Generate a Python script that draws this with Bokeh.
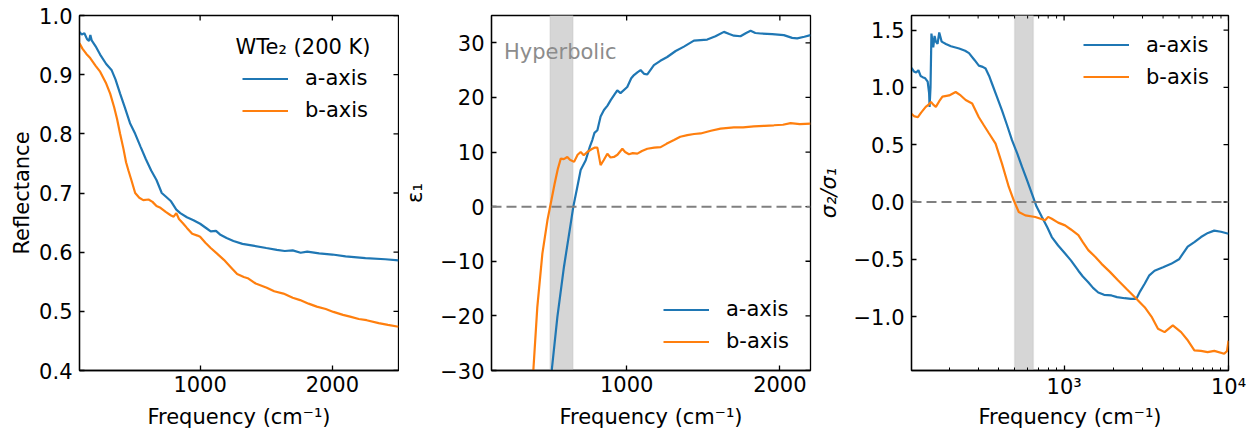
import math
from bokeh.plotting import figure
from bokeh.layouts import row
from bokeh.models import (FixedTicker, Span, BoxAnnotation, BasicTickFormatter,
                          Legend, LegendItem, Label, Range1d)
from bokeh.embed import file_html
from bokeh.resources import INLINE

BLUE = "#1f77b4"
ORANGE = "#ff7f0e"
FONT = "DejaVu Sans"
FS = "21px"
FRAME_W = 319
FRAME_H = 355

# ---------------- data ----------------
# Panel 1: reflectance
refl_freq_a = [88, 105, 125, 145, 160, 170, 180, 210, 244, 290, 330, 360, 395, 430, 470, 509, 550, 590,
               630, 670, 710, 740, 780, 820, 850, 900, 950, 1000, 1050, 1080, 1120, 1150, 1200, 1252,
               1320, 1400, 1500, 1580, 1640, 1700, 1760, 1810, 1900, 2000, 2100, 2250, 2400, 2500]
refl_a = [0.972, 0.968, 0.970, 0.960, 0.957, 0.967, 0.958, 0.948, 0.934, 0.918, 0.908, 0.892, 0.868,
          0.845, 0.818, 0.800, 0.778, 0.757, 0.738, 0.722, 0.700, 0.694, 0.686, 0.672, 0.666, 0.659,
          0.654, 0.648, 0.640, 0.635, 0.636, 0.630, 0.624, 0.619, 0.614, 0.611, 0.607, 0.604, 0.602,
          0.603, 0.599, 0.601, 0.598, 0.596, 0.593, 0.590, 0.588, 0.586]
refl_freq_b = [88, 110, 140, 169, 210, 244, 290, 320, 350, 372, 395, 420, 440, 458, 480, 509, 540, 570,
               610, 640, 670, 700, 740, 780, 800, 820, 840, 870, 900, 940, 980, 1000, 1040, 1080, 1126,
               1180, 1230, 1280, 1330, 1360, 1420, 1504, 1560, 1630, 1700, 1756, 1820, 1882, 1950, 2008,
               2080, 2134, 2200, 2259, 2350, 2420, 2500]
refl_b = [0.953, 0.944, 0.935, 0.928, 0.915, 0.905, 0.885, 0.868, 0.845, 0.825, 0.800, 0.775, 0.752,
          0.738, 0.722, 0.700, 0.692, 0.688, 0.689, 0.685, 0.678, 0.675, 0.668, 0.662, 0.660, 0.666,
          0.656, 0.649, 0.641, 0.631, 0.628, 0.626, 0.616, 0.607, 0.598, 0.587, 0.575, 0.563, 0.558,
          0.556, 0.547, 0.540, 0.534, 0.530, 0.523, 0.519, 0.513, 0.508, 0.504, 0.499, 0.494, 0.491,
          0.487, 0.485, 0.480, 0.477, 0.474]

# Panel 2: epsilon_1
eps_freq_a = [505, 511, 548, 591, 635, 652, 678, 700, 733, 760, 776, 790, 809, 830, 852, 875, 896, 920,
              939, 960, 1004, 1030, 1048, 1070, 1091, 1115, 1135, 1178, 1220, 1265, 1320, 1374, 1439,
              1526, 1580, 1635, 1670, 1700, 1743, 1780, 1809, 1840, 1874, 1950, 2026, 2080, 2113, 2160, 2200]
eps_a = [-33, -30, -20.2, -11, -3.1, 0, 3.6, 6.7, 8.5, 11, 12.2, 13.5, 14, 16.5, 17.7, 18.5, 19.5, 20.5,
         21.3, 20.8, 21.9, 23.5, 24.1, 24.6, 25.0, 24.3, 24.2, 25.9, 26.7, 27.4, 28.5, 29.3, 30.4,
         30.6, 31.2, 32.0, 31.6, 31.3, 31.2, 31.8, 32.2, 31.8, 31.7, 31.6, 31.4, 30.9, 30.8, 31.1, 31.4]
eps_freq_b = [385, 391, 417, 450, 483, 504, 530, 550, 570, 590, 613, 630, 657, 680, 700, 720, 743, 770,
              790, 809, 830, 850, 874, 895, 917, 940, 972, 990, 1015, 1040, 1070, 1100, 1135, 1180, 1222,
              1260, 1309, 1350, 1396, 1440, 1483, 1550, 1613, 1700, 1760, 1830, 1900, 1961, 2020, 2070,
              2130, 2200]
eps_b = [-33, -30, -18.4, -8.6, -2.5, 0.5, 4.2, 6.8, 8.8, 8.7, 9.1, 8.6, 8.2, 9.5, 10, 9.4, 10, 10.5,
         10.8, 10.8, 7.6, 8.5, 9.7, 9.0, 9.1, 9.5, 10.6, 10.0, 9.6, 9.8, 9.7, 10.2, 10.6, 10.8, 10.9,
         11.5, 12.2, 12.8, 13.1, 13.3, 13.4, 13.9, 14.3, 14.5, 14.5, 14.7, 14.8, 14.9, 15.0, 15.3,
         15.1, 15.2]

# Panel 3: sigma2/sigma1 (log frequency axis)
sig_freq_a = [118, 122, 126, 130, 134, 138, 143, 148, 151, 152, 154, 156, 160, 163, 166, 170, 174, 180,
              191, 205, 230, 250, 264, 285, 303, 320, 333, 350, 365, 390, 419, 450, 482, 520, 555, 595,
              637, 680, 733, 790, 842, 920, 1014, 1100, 1221, 1300, 1403, 1500, 1614, 1750, 1942, 2100,
              2338, 2550, 2752, 2900, 3091, 3300, 3550, 4000, 4477, 5000, 5648, 6200, 6805, 7500, 8187,
              9000, 10000]
sig_a = [1.17, 1.14, 1.13, 1.15, 1.10, 1.09, 1.08, 1.05, 0.95, 0.83, 1.0, 1.47, 1.35, 1.45, 1.40, 1.38,
         1.48, 1.40, 1.38, 1.36, 1.34, 1.32, 1.30, 1.24, 1.19, 1.18, 1.165, 1.10, 1.03, 0.92, 0.80, 0.67,
         0.54, 0.42, 0.306, 0.19, 0.073, -0.04, -0.131, -0.22, -0.306, -0.38, -0.45, -0.51, -0.60,
         -0.65, -0.70, -0.75, -0.79, -0.81, -0.816, -0.83, -0.84, -0.845, -0.845, -0.78, -0.714,
         -0.64, -0.60, -0.57, -0.54, -0.50, -0.39, -0.35, -0.306, -0.27, -0.25, -0.26, -0.277]
sig_freq_b = [118, 122, 129, 135, 144, 150, 155, 160, 166, 174, 182, 200, 219, 235, 252, 276, 303, 325,
              349, 383, 419, 461, 494, 530, 581, 668, 767, 800, 842, 920, 1014, 1100, 1221, 1300, 1403,
              1550, 1690, 1900, 2133, 2400, 2685, 3091, 3400, 3724, 4085, 4584, 5148, 5600, 6200, 6800,
              7462, 8200, 9415, 9800, 10000]
sig_b = [0.77, 0.75, 0.74, 0.78, 0.83, 0.85, 0.874, 0.85, 0.83, 0.88, 0.92, 0.93, 0.96, 0.93, 0.89,
         0.86, 0.74, 0.67, 0.60, 0.51, 0.335, 0.131, 0.015, -0.087, -0.117, -0.131, -0.16, -0.13,
         -0.146, -0.18, -0.204, -0.24, -0.29, -0.35, -0.42, -0.48, -0.54, -0.61, -0.685, -0.76, -0.83,
         -0.918, -1.0, -1.107, -1.136, -1.078, -1.136, -1.2, -1.296, -1.30, -1.31, -1.30, -1.325,
         -1.30, -1.21]

hyperbolic_band = (500, 650)
zero_level = 0

refl_yticks = [0.4, 0.5, 0.6, 0.7, 0.8, 0.9, 1.0]
eps_yticks = [-30, -20, -10, 0, 10, 20, 30]
sig_yticks = [-1.0, -0.5, 0.0, 0.5, 1.0, 1.5]
lin_xticks = [1000, 2000]
log_xticks = [1000, 10000]
log_minor = [200, 300, 400, 500, 600, 700, 800, 900, 2000, 3000, 4000, 5000, 6000, 7000, 8000, 9000]

XLABEL = "Frequency (cm\u207b\u00b9)"


def fmt(v, nd):
    s = f"{v:.{nd}f}"
    return s.replace("-", "\u2212")


def style_axis(ax, ticks, minor=None, standoff=7, label_standoff=8):
    ax.ticker = FixedTicker(ticks=ticks, minor_ticks=minor or [])
    ax.formatter = BasicTickFormatter(use_scientific=False)
    ax.axis_line_color = "black"
    ax.axis_line_width = 1.3
    ax.major_tick_line_color = "black"
    ax.major_tick_line_width = 1.3
    ax.major_tick_in = 5
    ax.major_tick_out = 0
    ax.minor_tick_line_color = "black"
    ax.minor_tick_line_width = 1.0
    ax.minor_tick_in = 3 if minor else 0
    ax.minor_tick_out = 0
    ax.major_label_text_font = FONT
    ax.major_label_text_color = "black"
    ax.major_label_text_font_size = FS
    ax.major_label_standoff = standoff
    ax.axis_label_text_font = FONT
    ax.axis_label_text_font_size = FS
    ax.axis_label_text_font_style = "normal"
    ax.axis_label_text_color = "black"
    ax.axis_label_standoff = label_standoff


def make_fig(width, left, right, xr, yr, log=False):
    p = figure(width=width, height=434, x_range=Range1d(*xr), y_range=Range1d(*yr),
               x_axis_type="log" if log else "linear",
               output_backend="svg", toolbar_location=None,
               min_border_left=left, min_border_right=right, min_border_top=15, min_border_bottom=64)
    p.xgrid.visible = False
    p.ygrid.visible = False
    p.outline_line_color = "black"
    p.outline_line_width = 1.3
    p.background_fill_color = "white"
    p.border_fill_color = "white"
    return p


def mirror_ticks(p, xticks, yticks, xr, yr, log=False, minor=None):
    """Inward tick marks on the top and right frame edges (matplotlib 'direction=in' style)."""
    def ylen(px):
        return px * (yr[1] - yr[0]) / FRAME_H

    def xend(px):
        if log:
            return xr[1] / 10 ** (px * math.log10(xr[1] / xr[0]) / FRAME_W)
        return xr[1] - px * (xr[1] - xr[0]) / FRAME_W

    p.segment(x0=xticks, x1=xticks, y0=[yr[1]] * len(xticks), y1=[yr[1] - ylen(5)] * len(xticks),
              line_color="black", line_width=1.3)
    if minor:
        p.segment(x0=minor, x1=minor, y0=[yr[1]] * len(minor), y1=[yr[1] - ylen(3)] * len(minor),
                  line_color="black", line_width=1.0)
    p.segment(x0=[xr[1]] * len(yticks), x1=[xend(5)] * len(yticks), y0=yticks, y1=yticks,
              line_color="black", line_width=1.3)


def add_box_axes(p, xticks, yticks, xlabels, ylabels, ylabel, xr, yr, log=False, minor=None,
                 ylabel_standoff=8, xtick_standoff=5, xlabel_standoff=10):
    style_axis(p.xaxis[0], xticks, minor, standoff=xtick_standoff, label_standoff=xlabel_standoff)
    p.xaxis[0].axis_label = XLABEL
    p.xaxis[0].major_label_overrides = xlabels
    style_axis(p.yaxis[0], yticks, None, standoff=7, label_standoff=ylabel_standoff)
    p.yaxis[0].axis_label = ylabel
    p.yaxis[0].major_label_overrides = ylabels
    mirror_ticks(p, xticks, yticks, xr, yr, log, minor)


def make_legend(p, ra, rb, loc):
    leg = Legend(items=[LegendItem(label="a-axis", renderers=[ra]),
                        LegendItem(label="b-axis", renderers=[rb])],
                 location=loc, padding=0, margin=0, spacing=3,
                 glyph_width=46, glyph_height=29, label_height=29, label_standoff=17,
                 border_line_alpha=0, background_fill_alpha=0,
                 label_text_font=FONT, label_text_font_size=FS, label_text_color="black")
    p.add_layout(leg)


# ---------------- panel 1 ----------------
X1, Y1 = (88, 2500), (0.4, 1.0)
p1 = make_fig(399, 79, 1, X1, Y1)
add_box_axes(p1, lin_xticks, refl_yticks, {1000: "1000", 2000: "2000"},
             {t: fmt(t, 1) for t in refl_yticks}, "Reflectance", X1, Y1, ylabel_standoff=2,
             xtick_standoff=5, xlabel_standoff=10)
a1 = p1.line(refl_freq_a, refl_a, line_color=BLUE, line_width=2.2)
b1 = p1.line(refl_freq_b, refl_b, line_color=ORANGE, line_width=2.2)
make_legend(p1, a1, b1, (163, 245.5))
p1.add_layout(Label(x=1268, y=0.9464, text="WTe\u2082 (200 K)", text_font=FONT, text_font_size=FS,
                    text_baseline="middle", text_align="left", text_color="black"))

# ---------------- panel 2 ----------------
X2, Y2 = (118, 2200), (-30, 35)
p2 = make_fig(414, 92, 3, X2, Y2)
add_box_axes(p2, lin_xticks, eps_yticks, {1000: "1000", 2000: "2000"},
             {t: fmt(t, 0) for t in eps_yticks}, "\u03b5\u2081", X2, Y2, ylabel_standoff=10,
             xtick_standoff=5, xlabel_standoff=10)
p2.add_layout(BoxAnnotation(left=hyperbolic_band[0], right=hyperbolic_band[1], fill_color="#d6d6d6",
                            fill_alpha=1, line_color="#bdbdbd", line_width=1.5, level="underlay"))
p2.add_layout(Span(location=zero_level, dimension="width", line_color="#808080", line_width=2,
                   line_dash="10 5"))
a2 = p2.line(eps_freq_a, eps_a, line_color=BLUE, line_width=2.2)
b2 = p2.line(eps_freq_b, eps_b, line_color=ORANGE, line_width=2.2)
p2.add_layout(Label(x=200, y=28.3, text="Hyperbolic", text_font=FONT, text_font_size=FS,
                    text_baseline="middle", text_align="left", text_color="#8c8c8c"))
make_legend(p2, a2, b2, (172, 14.5))

# ---------------- panel 3 ----------------
X3, Y3 = (118, 10000), (-1.471, 1.628)
p3 = make_fig(445, 96, 30, X3, Y3, log=True)
add_box_axes(p3, log_xticks, sig_yticks, {1000: "10\u00b3", 10000: "10\u2074"},
             {t: fmt(t, 1) for t in sig_yticks}, "\u03c3\u2082/\u03c3\u2081", X3, Y3, log=True,
             minor=log_minor, ylabel_standoff=10, xtick_standoff=4, xlabel_standoff=3)
p3.yaxis[0].axis_label_text_font_style = "italic"
p3.add_layout(BoxAnnotation(left=hyperbolic_band[0], right=hyperbolic_band[1], fill_color="#d6d6d6",
                            fill_alpha=1, line_color="#bdbdbd", line_width=1.5, level="underlay"))
p3.add_layout(Span(location=zero_level, dimension="width", line_color="#808080", line_width=2,
                   line_dash="10 5"))
a3 = p3.line(sig_freq_a, sig_a, line_color=BLUE, line_width=2.2)
b3 = p3.line(sig_freq_b, sig_b, line_color=ORANGE, line_width=2.2)
make_legend(p3, a3, b3, (172, 279))

layout = row(p1, p2, p3)
open("out.html", "w").write(file_html(layout, INLINE))
